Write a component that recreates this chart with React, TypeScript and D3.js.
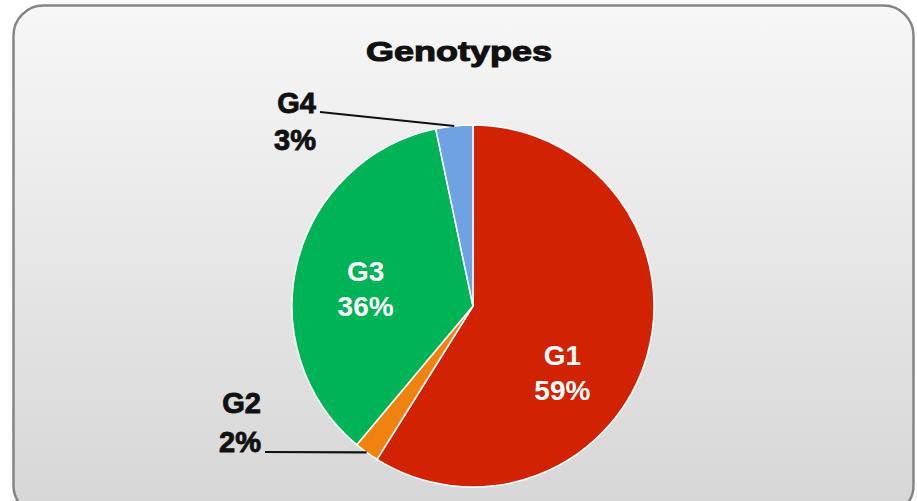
import { FunctionComponent } from "react";
import * as d3 from "d3";

const genotypes = ["G1", "G2", "G3", "G4"];
const shares = [58.9, 2.2, 35.6, 3.3];
const sliceColors = ["#d22204", "#f0820f", "#00b356", "#6ea2e2"];

// label placement per slice: inside labels get an offset from the arc centroid,
// outside ones an anchor point for the text end and leader line
const labelInside = [true, false, true, false];
const labelOffset: [number, number][] = [[-15, 38], [0, 0], [-2, 10], [0, 0]];
const outsideAnchor: [number, number][] = [[0, 0], [261, 452], [0, 0], [316, 112]];

interface Slice {
    name: string;
    value: number;
    color: string;
}

const data: Slice[] = genotypes.map((g, i) => ({ name: g, value: shares[i], color: sliceColors[i] }));

const width = 917;
const height = 501;
const cx = 473;
const cy = 306;
const radius = 181;

const App: FunctionComponent = () => {
    const pie = d3.pie<Slice>().sort(null).value(d => d.value);
    const arcs = pie(data);
    const arc = d3.arc<d3.PieArcDatum<Slice>>().innerRadius(0).outerRadius(radius);
    const labelArc = d3.arc<d3.PieArcDatum<Slice>>().innerRadius(radius * 0.6).outerRadius(radius * 0.6);
    const edgeArc = d3.arc<d3.PieArcDatum<Slice>>().innerRadius(radius).outerRadius(radius);
    const pct = (v: number) => d3.format(".0f")(v) + "%";

    return (
        <svg width={width} height={height} style={{ position: "absolute", left: 0, top: 0, display: "block" }}
            fontFamily="'Liberation Sans', Arial, sans-serif">
            <defs>
                <linearGradient id="bg" x1="0" y1="0" x2="0" y2="1">
                    <stop offset="0" stopColor="#f7f7f7" />
                    <stop offset="1" stopColor="#d6d6d6" />
                </linearGradient>
            </defs>
            <rect x={0} y={0} width={width} height={height} fill="#ffffff" />
            <rect x={13.5} y={5.5} width={900} height={510} rx={30} fill="url(#bg)" stroke="#858585" strokeWidth={2.5} />
            <text x={459} y={61} textAnchor="middle" fontSize={28} fontWeight="bold" fill="#111"
                stroke="#111" strokeWidth={1.1} textLength={186} lengthAdjust="spacingAndGlyphs">Genotypes</text>
            <g transform={`translate(${cx},${cy})`}>
                {arcs.map(a => (
                    <path key={a.data.name} d={arc(a) || ""} fill={a.data.color} stroke="#ffffff" strokeWidth={1.5} />
                ))}
            </g>
            {arcs.map((a, i) => {
                if (labelInside[i]) {
                    const [lx, ly] = labelArc.centroid(a);
                    const x = cx + lx + labelOffset[i][0];
                    const y = cy + ly + labelOffset[i][1];
                    return (
                        <g key={"l" + i} fill="#ffffff" fontSize={28} fontWeight="bold" textAnchor="middle">
                            <text x={x} y={y - 9}>{a.data.name}</text>
                            <text x={x} y={y + 26}>{pct(a.data.value)}</text>
                        </g>
                    );
                }
                const [ex, ey] = edgeArc.centroid(a);
                const [ax, ay] = outsideAnchor[i];
                const lineAtTop = ay < cy;
                return (
                    <g key={"l" + i}>
                        <line x1={ax + 4} y1={ay} x2={cx + ex} y2={cy + ey}
                            stroke="#111" strokeWidth={2.2} />
                        <g fill="#111" stroke="#111" strokeWidth={0.9} fontSize={29} fontWeight="bold" textAnchor="end">
                            <text x={ax} y={lineAtTop ? ay + 1 : ay - 39}>{a.data.name}</text>
                            <text x={ax} y={lineAtTop ? ay + 38 : ay}>{pct(a.data.value)}</text>
                        </g>
                    </g>
                );
            })}
        </svg>
    );
};

export default App;
